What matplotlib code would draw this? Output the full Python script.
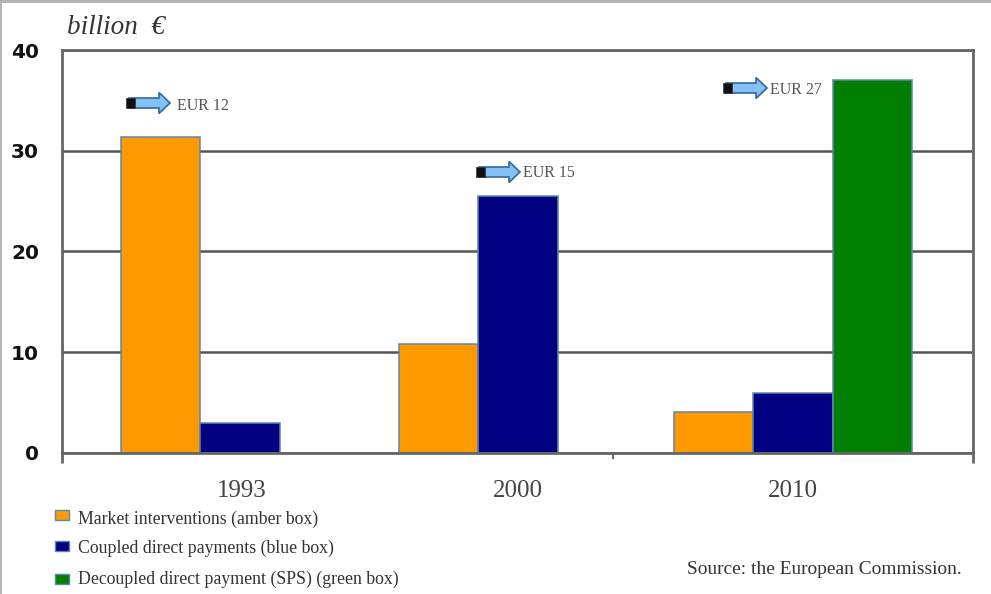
import matplotlib
matplotlib.use("Agg")
import matplotlib.pyplot as plt
from matplotlib.patches import FancyArrow, Rectangle
import numpy as np

years = ["1993", "2000", "2010"]
amber = [31.4, 10.8, 4.1]
blue = [3.0, 25.5, 6.0]
green = [0, 0, 37.0]
totals = ["EUR 12", "EUR 15", "EUR 27"]
legend_labels = ["Market interventions (amber box)",
                 "Coupled direct payments (blue box)",
                 "Decoupled direct payment (SPS) (green box)"]
source = "Source: the European Commission."

W, H = 991, 594
EDGE = "#5f86ad"
SERIF = "Liberation Serif"

fig = plt.figure(figsize=(W / 100, H / 100), dpi=100)

ax = fig.add_axes([62 / W, 1 - 453 / H, (973 - 62) / W, (453 - 50) / H])
ax.set_xlim(-0.644, 2.651)
ax.set_ylim(0, 40)
ax.set_yticks([0, 10, 20, 30, 40])
ax.yaxis.grid(True, color="#555555", lw=1.8)
ax.set_axisbelow(True)
for s in ax.spines.values():
    s.set_color("#666666")
    s.set_linewidth(2)

x = np.array([0, 1.006, 2])
w = 0.2875
ax.bar(x - w, amber, w, color="#ff9900", edgecolor=EDGE, lw=1.1)
ax.bar(x, blue, w, color="#000080", edgecolor=EDGE, lw=1.1)
ax.bar(x[2] + w, green[2], w, color="#007f00", edgecolor=EDGE, lw=1.1)

# the axis ends stick out further than the one inner tick
ax.set_xticks([-0.644, 2.651])
ax.set_xticks([1.349], minor=True)
ax.set_xticklabels([])
ax.tick_params(axis="x", which="major", length=7, width=2, color="#666666")
ax.tick_params(axis="x", which="minor", length=4, width=1.2, color="#444444")
ax.tick_params(axis="y", length=0, labelleft=False)

# overlay in pixel units for labels and annotations
top = fig.add_axes([0, 0, 1, 1], facecolor="none")
top.set_xlim(0, W)
top.set_ylim(H, 0)
top.axis("off")

# frame strips along the top and left edge
top.add_patch(Rectangle((0, 0), W, 3, color="#b4b4b4", lw=0))
top.add_patch(Rectangle((0, 0), 1.5, H, color="#b4b4b4", lw=0))

for v in [0, 10, 20, 30, 40]:
    top.text(39, 455 - v * 10.07, str(v), ha="right", va="center", fontsize=14.5,
             fontweight="bold", color="#111111", family="DejaVu Sans")
top.text(67, 28, "billion  €", fontsize=19.5, style="italic", family=SERIF,
         color="#333333", va="center")

for yr, px in zip(years, [242, 518, 793]):
    top.text(px, 491, yr, ha="center", va="center", fontsize=18, family=SERIF, color="#444444")

# arrows marking the decoupled totals
arrow_pos = [(126, 103), (476, 172), (723, 88)]
label_pos = [(177, 106), (523, 173), (770, 90)]
for (px, py), (lx, ly), label in zip(arrow_pos, label_pos, totals):
    top.add_patch(FancyArrow(px + 3, py, 41, 0, width=10, head_width=21, head_length=11,
                             length_includes_head=True, fc="#85c0f5", ec="#2f6a9c", lw=1.2))
    top.add_patch(Rectangle((px, py - 5), 9, 10, fc="#111111", ec="#333333", lw=0.5))
    top.text(lx, ly, label, fontsize=11.5, family=SERIF, color="#555555", va="center")

for (py, ty, col, label) in zip([515, 546, 579], [519, 548, 579],
                                ["#ff9900", "#000080", "#007f00"], legend_labels):
    top.add_patch(Rectangle((55, py - 5), 14, 10, fc=col, ec=EDGE, lw=1))
    top.text(78, ty, label, fontsize=12.8, family=SERIF, color="#333333", va="center")

top.text(687, 570, source, fontsize=13.95, family=SERIF, color="#333333", va="center")

fig.savefig("out.png", dpi=100)
